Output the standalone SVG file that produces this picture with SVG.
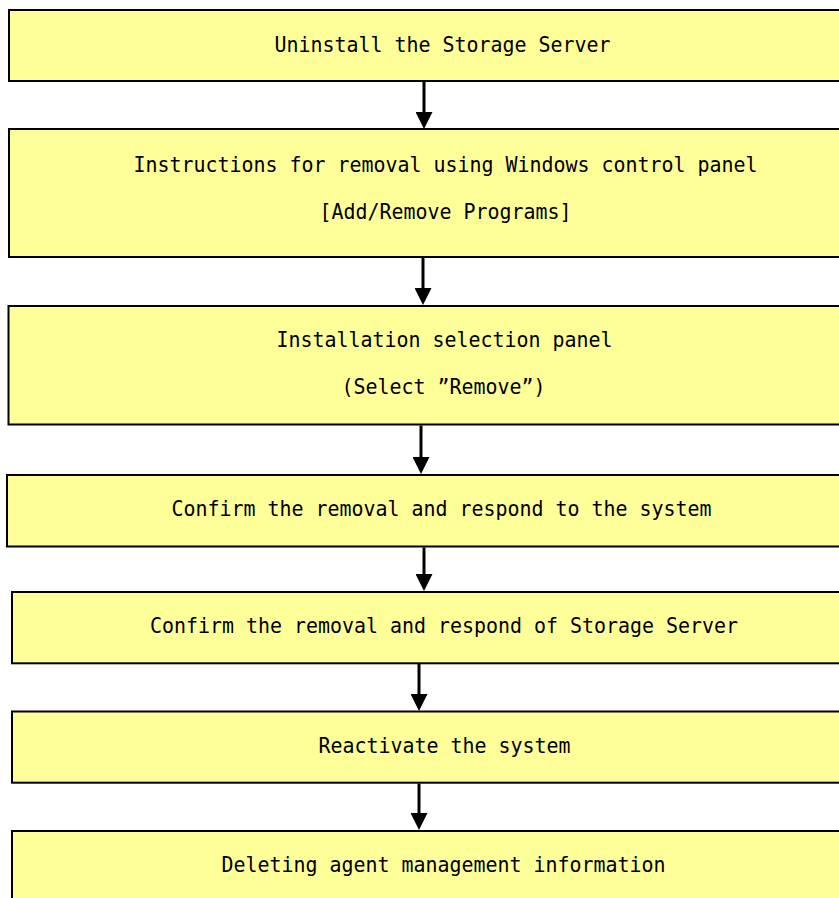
<svg xmlns="http://www.w3.org/2000/svg" width="839" height="898" viewBox="0 0 839 898">
<style>
.box{fill:#FFFF99;stroke:#000;stroke-width:2}
.t{font-family:"DejaVu Sans Mono","Liberation Mono",monospace;font-size:22px;fill:#000}
.conn{stroke:#000;stroke-width:3;fill:none}
</style>
<defs>
<marker id="ah" markerUnits="userSpaceOnUse" markerWidth="17" markerHeight="17" refX="1" refY="8.5" orient="auto">
<path d="M0,0 L17,8.5 L0,17 Z" fill="#000"/>
</marker>
</defs>
<rect width="839" height="898" fill="#fff"/>
<g id="n1"><rect class="box" x="9" y="10" width="840" height="71"/>
<text class="t" x="274.5" y="52" textLength="336" lengthAdjust="spacingAndGlyphs">Uninstall the Storage Server</text></g>
<g id="n2"><rect class="box" x="9" y="129" width="840" height="128"/>
<text class="t" x="133.5" y="172" textLength="624" lengthAdjust="spacingAndGlyphs">Instructions for removal using Windows control panel</text>
<text class="t" x="319.5" y="219" textLength="252" lengthAdjust="spacingAndGlyphs">[Add/Remove Programs]</text></g>
<g id="n3"><rect class="box" x="8.5" y="306" width="840" height="118.5"/>
<text class="t" x="276.5" y="347" textLength="336" lengthAdjust="spacingAndGlyphs">Installation selection panel</text>
<text class="t" x="341.5" y="394" textLength="204" lengthAdjust="spacingAndGlyphs">(Select ”Remove”)</text></g>
<g id="n4"><rect class="box" x="7" y="475" width="840" height="71.5"/>
<text class="t" x="171.5" y="516" textLength="540" lengthAdjust="spacingAndGlyphs">Confirm the removal and respond to the system</text></g>
<g id="n5"><rect class="box" x="12" y="592" width="840" height="71.3"/>
<text class="t" x="150" y="633" textLength="588" lengthAdjust="spacingAndGlyphs">Confirm the removal and respond of Storage Server</text></g>
<g id="n6"><rect class="box" x="12" y="711.5" width="840" height="71.2"/>
<text class="t" x="318.5" y="753" textLength="252" lengthAdjust="spacingAndGlyphs">Reactivate the system</text></g>
<g id="n7"><rect class="box" x="12" y="831" width="840" height="90"/>
<text class="t" x="221.5" y="872" textLength="444" lengthAdjust="spacingAndGlyphs">Deleting agent management information</text></g>
<g id="connectors">
<line class="conn" x1="424" y1="82" x2="424" y2="113" marker-end="url(#ah)"/>
<line class="conn" x1="423" y1="258" x2="423" y2="289" marker-end="url(#ah)"/>
<line class="conn" x1="421" y1="425.5" x2="421" y2="458" marker-end="url(#ah)"/>
<line class="conn" x1="424" y1="547.5" x2="424" y2="575" marker-end="url(#ah)"/>
<line class="conn" x1="419" y1="664" x2="419" y2="695" marker-end="url(#ah)"/>
<line class="conn" x1="419" y1="783.5" x2="419" y2="814" marker-end="url(#ah)"/>
</g>
</svg>
